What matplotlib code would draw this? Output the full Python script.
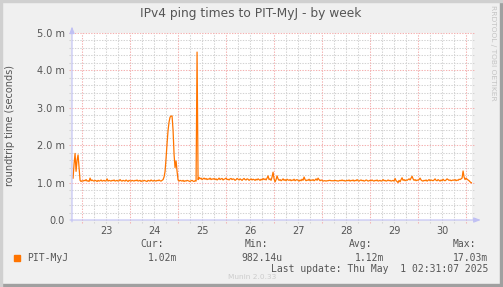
import numpy as np
import pandas as pd
import matplotlib
matplotlib.use("Agg")
import matplotlib.pyplot as plt
import matplotlib.dates as mdates
from matplotlib.patches import Rectangle

# ping times in milliseconds, 30 minute averages starting 2025-04-22 19:30
ping_ms = [
    1.12, 1.50, 1.78, 1.30, 1.60, 1.74, 1.40, 1.06, 1.03, 1.05, 1.04, 1.06, 1.05, 1.08, 1.04, 1.05, 1.03, 1.12, 1.05, 1.07,
    1.05, 1.04, 1.06, 1.05, 1.03, 1.06, 1.04, 1.05, 1.07, 1.04, 1.05, 1.06, 1.04, 1.05, 1.10, 1.04, 1.06, 1.05, 1.04, 1.06,
    1.05, 1.07, 1.04, 1.05, 1.06, 1.04, 1.05, 1.08, 1.05, 1.04, 1.06, 1.05, 1.04, 1.07, 1.05, 1.03, 1.06, 1.05, 1.04, 1.06,
    1.05, 1.04, 1.06, 1.05, 1.07, 1.04, 1.05, 1.06, 1.03, 1.05, 1.04, 1.06, 1.05, 1.04, 1.03, 1.06, 1.05, 1.04, 1.07, 1.05,
    1.04, 1.06, 1.05, 1.04, 1.06, 1.05, 1.07, 1.05, 1.04, 1.06, 1.08, 1.15, 1.30, 1.65, 2.05, 2.40, 2.62, 2.75, 2.78, 2.78,
    2.40, 1.75, 1.40, 1.58, 1.30, 1.07, 1.04, 1.06, 1.05, 1.04, 1.06, 1.03, 1.05, 1.04, 1.06, 1.05, 1.04, 1.03, 1.05, 1.06,
    1.04, 1.03, 1.05, 1.04, 4.49, 1.08, 1.14, 1.10, 1.12, 1.08, 1.10, 1.12, 1.09, 1.11, 1.08, 1.10, 1.09, 1.12, 1.08, 1.10,
    1.09, 1.11, 1.08, 1.10, 1.07, 1.09, 1.12, 1.08, 1.10, 1.11, 1.07, 1.09, 1.10, 1.12, 1.08, 1.09, 1.07, 1.10, 1.11, 1.08,
    1.10, 1.09, 1.06, 1.08, 1.11, 1.09, 1.07, 1.10, 1.08, 1.06, 1.09, 1.11, 1.08, 1.07, 1.10, 1.09, 1.06, 1.08, 1.10, 1.07,
    1.09, 1.08, 1.06, 1.09, 1.07, 1.10, 1.08, 1.06, 1.09, 1.07, 1.11, 1.08, 1.10, 1.07, 1.12, 1.18, 1.08, 1.10, 1.06, 1.15,
    1.28, 1.10, 1.02, 1.08, 1.18, 1.10, 1.06, 1.08, 1.05, 1.07, 1.10, 1.06, 1.08, 1.05, 1.09, 1.07, 1.06, 1.08, 1.05, 1.07,
    1.06, 1.09, 1.05, 1.07, 1.08, 1.06, 1.04, 1.07, 1.05, 1.09, 1.06, 1.15, 1.08, 1.05, 1.07, 1.06, 1.09, 1.05, 1.07, 1.06,
    1.08, 1.05, 1.07, 1.10, 1.06, 1.12, 1.08, 1.05, 1.07, 1.06, 1.04, 1.05, 1.05, 1.04, 1.05, 1.05, 1.06, 1.06, 1.05, 1.05,
    1.05, 1.05, 1.06, 1.05, 1.05, 1.04, 1.05, 1.06, 1.05, 1.07, 1.05, 1.06, 1.04, 1.05, 1.06, 1.05, 1.07, 1.04, 1.06, 1.05,
    1.07, 1.04, 1.06, 1.05, 1.08, 1.05, 1.04, 1.06, 1.07, 1.05, 1.06, 1.04, 1.05, 1.07, 1.06, 1.04, 1.05, 1.06, 1.05, 1.07,
    1.05, 1.04, 1.06, 1.05, 1.07, 1.04, 1.05, 1.06, 1.04, 1.05, 1.08, 1.05, 1.06, 1.04, 1.05, 1.07, 1.05, 1.06, 1.04, 1.05,
    1.06, 1.04, 1.11, 1.05, 1.03, 1.00, 1.06, 1.02, 1.08, 1.13, 1.06, 1.08, 1.05, 1.07, 1.06, 1.08, 1.10, 1.07, 1.12, 1.17,
    1.10, 1.06, 1.08, 1.05, 1.07, 1.06, 1.08, 1.12, 1.07, 1.05, 1.04, 1.06, 1.05, 1.07, 1.04, 1.06, 1.08, 1.05, 1.07, 1.06,
    1.05, 1.07, 1.10, 1.06, 1.05, 1.08, 1.06, 1.04, 1.07, 1.05, 1.09, 1.06, 1.05, 1.07, 1.10, 1.08, 1.06, 1.07, 1.05, 1.06,
    1.07, 1.06, 1.08, 1.05, 1.07, 1.06, 1.09, 1.08, 1.10, 1.12, 1.31, 1.15, 1.08, 1.12, 1.09, 1.07, 1.05, 1.02, 1.00, 0.99,
]
start = "2025-04-22 19:30"
y_ticks = [0, 1, 2, 3, 4, 5]
y_labels = ["0.0", "1.0 m", "2.0 m", "3.0 m", "4.0 m", "5.0 m"]
day_labels = ["23", "24", "25", "26", "27", "28", "29", "30"]
series_name = "PIT-MyJ"
stats_head = ["Cur:", "Min:", "Avg:", "Max:"]
stats_vals = ["1.02m", "982.14u", "1.12m", "17.03m"]
title = "IPv4 ping times to PIT-MyJ - by week"
last_update = "Last update: Thu May  1 02:31:07 2025"

W, H = 503, 287
def fx(px):
    return px / W
def fy(py):
    return 1 - py / H

LINE = "#ff7400"
MGRID = "#f4b0b0"
GRID = "#d2d2d2"
AXIS = "#c0c0f4"
TXT = "#555555"

fig = plt.figure(figsize=(W / 100, H / 100), dpi=100, facecolor="#f0f0f0")
# frame shadow
fig.patches.append(Rectangle((0, 0), 1, fy(284), transform=fig.transFigure, color="#a0a0a0", zorder=0))
fig.patches.append(Rectangle((fx(500), 0), 1, 1, transform=fig.transFigure, color="#a0a0a0", zorder=0))
fig.patches.append(Rectangle((0, fy(2)), 1, 1, transform=fig.transFigure, color="#d0d0d0", zorder=0))
fig.patches.append(Rectangle((0, 0), fx(2), 1, transform=fig.transFigure, color="#d0d0d0", zorder=0))

ax = fig.add_axes([fx(72), fy(220), 400 / W, 187 / H])
ax.set_facecolor("white")
for s in ax.spines.values():
    s.set_visible(False)

times = mdates.date2num(pd.date_range(start, periods=len(ping_ms), freq="30min"))
x0 = mdates.date2num(pd.Timestamp("2025-04-22 18:58"))
x1 = x0 + 400 / 48
ax.set_xlim(x0, x1)
ax.set_ylim(0, 5)

# grid: 6 hour / 0.2 m dotted grey, day / 1 m dotted red
six = mdates.date2num(pd.date_range("2025-04-22 18:00", "2025-05-01 06:00", freq="6h"))
for v in six:
    if x0 < v < x1:
        major = abs(v - round(v)) < 1e-6
        ax.axvline(v, ymin=-3 / 187, ymax=1, color=MGRID if major else GRID, lw=0.75,
                   linestyle=(0, (1.3, 1.3)), clip_on=False, zorder=1.5 if major else 1)
for v in np.arange(0.2, 5.01, 0.2):
    major = abs(v - round(v)) < 1e-6
    ax.axhline(v, xmin=-3 / 400, xmax=1 + 3 / 400, color=MGRID if major else GRID, lw=0.75,
               linestyle=(0, (1.3, 1.3)), clip_on=False, zorder=1.5 if major else 1)

ax.plot(times, ping_ms, color=LINE, lw=0.9, zorder=3)

# axes with arrows
ax.annotate("", xy=(0, 1.035), xytext=(0, -0.01), xycoords="axes fraction",
            arrowprops=dict(arrowstyle="-|>,head_length=0.4,head_width=0.15", color=AXIS, lw=0.8, shrinkA=0, shrinkB=0))
ax.annotate("", xy=(1.022, 0), xytext=(-0.005, 0), xycoords="axes fraction",
            arrowprops=dict(arrowstyle="-|>,head_length=0.4,head_width=0.15", color=AXIS, lw=0.8, shrinkA=0, shrinkB=0))

noon = mdates.date2num(pd.date_range("2025-04-23 12:00", periods=len(day_labels), freq="D"))
ax.set_xticks(noon, day_labels)
ax.set_yticks(y_ticks, y_labels)
ax.tick_params(length=0, labelsize=7, labelcolor=TXT, pad=5)
ax.tick_params(axis="x", pad=4)

fig.text(fx(251), fy(14), title, ha="center", va="center", fontsize=8.8, color=TXT)
fig.text(fx(10), fy(126), "roundtrip time (seconds)", rotation=90, ha="center", va="center",
         fontsize=7, color=TXT)
fig.text(fx(493), fy(5), "RRDTOOL / TOBI OETIKER", rotation=-90, ha="center", va="top",
         fontsize=5.4, color="#c4c4c4")

# legend
mono = "DejaVu Sans Mono"
fig.patches.append(Rectangle((fx(14), fy(261)), 6 / W, 6 / H, transform=fig.transFigure, color=LINE))
fig.text(fx(27), fy(258), series_name, ha="left", va="center", fontsize=7, color=TXT, family=mono)
head_x = [164, 268, 372, 476]
val_x = [177, 282, 384, 488]
for h, hx, v, vx in zip(stats_head, head_x, stats_vals, val_x):
    fig.text(fx(hx), fy(244), h, ha="right", va="center", fontsize=7, color=TXT, family=mono)
    fig.text(fx(vx), fy(258), v, ha="right", va="center", fontsize=7, color=TXT, family=mono)
fig.text(fx(488), fy(269), last_update, ha="right", va="center", fontsize=7, color=TXT, family=mono)
fig.text(fx(252), fy(277), "Munin 2.0.33", ha="center", va="center", fontsize=5.3, color="#cccccc")

fig.savefig("out.png", dpi=100, facecolor=fig.get_facecolor())
